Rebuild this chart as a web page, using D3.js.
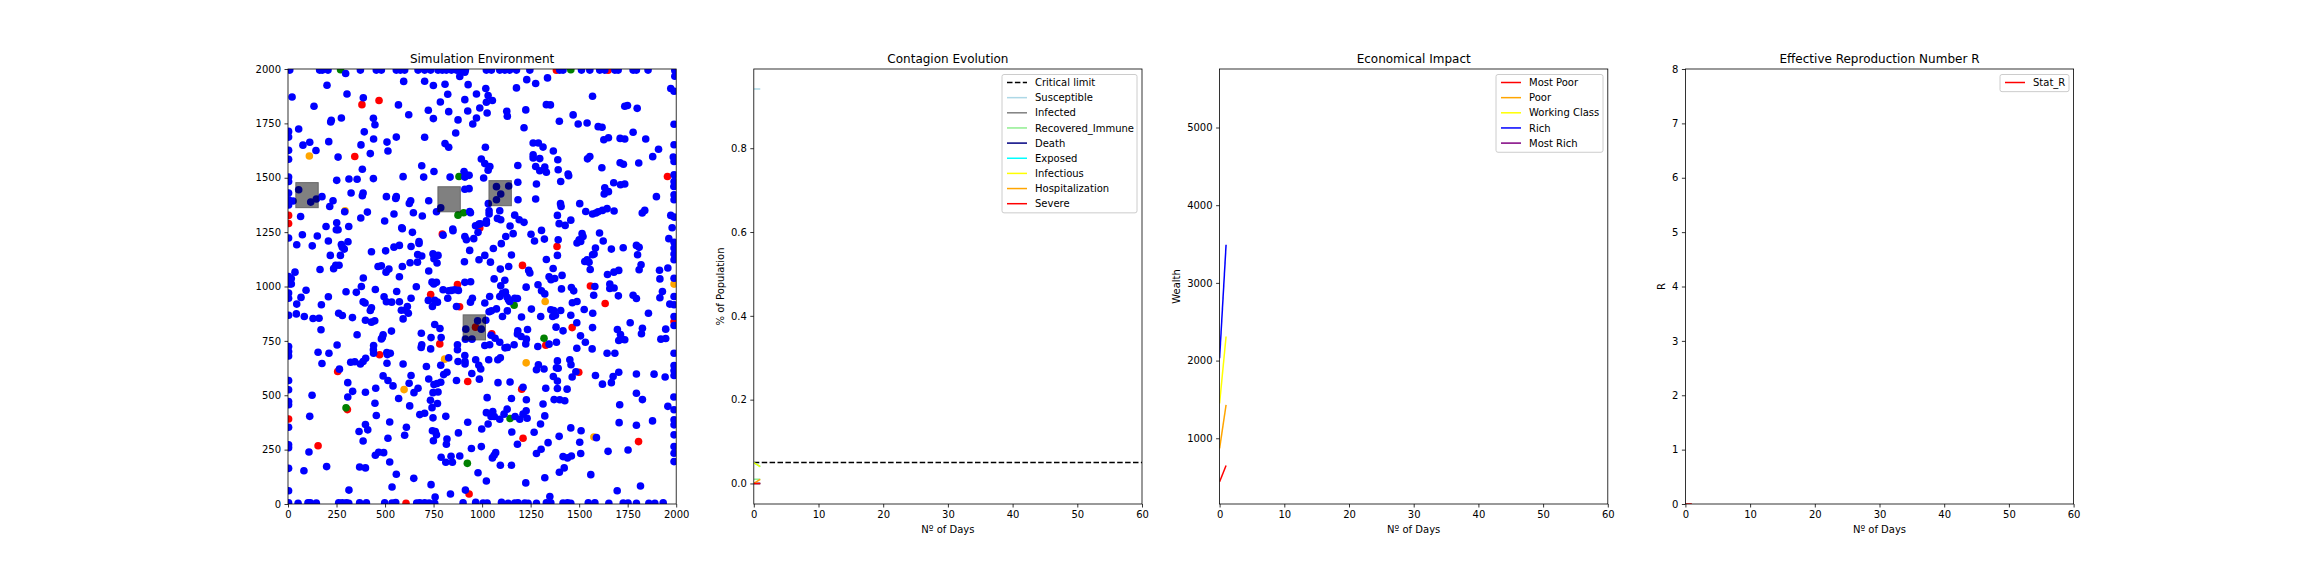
<!DOCTYPE html>
<html>
<head>
<meta charset="utf-8">
<script src="https://cdnjs.cloudflare.com/ajax/libs/d3/7.8.5/d3.min.js"></script>
<style>
    body { margin: 0; background: #fff; }
    text { font-family: "DejaVu Sans", sans-serif; fill: #000; }
</style>
</head>
<body>
<svg id="fig" width="2304" height="576"></svg>
<script>
// people in the simulation, by state, as [x, y]
const bluePeople = [
[9,1995],[163,1995],[177,1995],[206,1995],[373,1995],[455,1995],[481,1995],[558,1995],[579,1995],[601,1995],[670,1995],[704,1995],[735,1995],[773,1995],[795,1995],[816,1995],[842,1995],[868,1995],[893,1995],[914,1995],[1022,1995],[1048,1995],[1091,1995],[1117,1995],[1142,1995],[1177,1995],[1246,1995],[1400,1995],[1417,1995],[1512,1995],[1555,1995],[1606,1995],[1632,1995],[1684,1995],[1701,1995],[1778,1995],[1795,1995],[1855,1995],
[297,1979],[596,1943],[885,1966],[911,1985],[201,1925],[704,1944],[749,1924],[809,1930],[928,1928],[1019,1910],[1177,1913],[1230,1951],[1276,1933],[1337,1959],[21,1871],[304,1885],[388,1868],[823,1884],[971,1885],[1031,1878],[1569,1875],[911,1859],[785,1848],[1022,1847],[1053,1855],[1972,1910],[1989,1898],[1993,1967],[1993,1993],
[134,1829],[569,1835],[988,1821],[1331,1836],[1352,1835],[1735,1829],[1749,1832],[1799,1819],[723,1810],[926,1807],[828,1804],[1127,1806],[1225,1812],[1026,1798],[1130,1783],[622,1790],[971,1775],[749,1772],[876,1766],[440,1773],[223,1764],[220,1756],[275,1775],[1469,1789],[1398,1760],[952,1747],[1495,1747],[1541,1752],[1989,1746],[448,1744],
[55,1724],[1216,1730],[1598,1735],[1618,1732],[393,1711],[864,1706],[1778,1709],[3,1713],[3,1687],[558,1687],[704,1686],[1651,1684],[1627,1675],[1711,1681],[1735,1678],[1843,1678],[441,1678],[510,1664],[210,1666],[112,1663],[77,1650],[809,1657],[828,1640],[376,1651],[1263,1660],[1290,1660],[1314,1641],[1017,1640],[1989,1652],[1909,1631],[1367,1623],[144,1625],[515,1623],[3,1626],[1263,1605],[424,1611],[258,1595],[1555,1598],[1543,1587],[1879,1597],[1985,1595],
[996,1586],[1263,1591],[1297,1588],[1390,1583],[3,1585],[1711,1569],[1728,1562],[1807,1568],[1989,1575],[1014,1565],[1184,1556],[689,1555],[1040,1552],[1276,1552],[1323,1549],[383,1539],[1617,1546],[1031,1535],[1392,1537],[1297,1532],[1331,1525],[907,1529],[752,1529],[919,1512],[933,1511],[1443,1517],[1446,1509],[593,1505],[835,1503],[911,1503],[699,1503],[1008,1499],[314,1494],[356,1493],[440,1496],[251,1488],[3,1503],[3,1483],[1405,1483],[1184,1479],[1678,1477],[1713,1468],[1735,1471],[1989,1514],[1989,1483],[1280,1471],
[1988,1460],[1632,1454],[1651,1436],[1629,1425],[325,1430],[387,1430],[383,1417],[911,1447],[933,1450],[507,1413],[558,1413],[555,1405],[175,1413],[1185,1399],[1276,1402],[1898,1413],[1989,1422],[26,1393],[232,1394],[632,1394],[625,1382],[725,1394],[1404,1381],[1407,1368],[1503,1381],[1032,1381],[215,1368],[1989,1399],[3,1430],[3,1399],[3,1375],
[55,1445],[117,1388],[146,1402],[787,1362],[1074,1459],[1096,1425],[1074,1399],[1137,1462],
[1534,1345],[1036,1348],[1036,1333],[1091,1348],[1598,1344],[1620,1350],[1644,1358],[292,1344],[409,1342],[646,1339],[765,1344],[936,1345],[940,1339],[1569,1333],[1586,1338],[1680,1347],[1825,1338],[1838,1350],[65,1322],[692,1324],[1168,1328],[1388,1327],[1972,1327],[1989,1319],[375,1315],[546,1333],[251,1293],[1079,1313],[1096,1307],[1191,1307],[1216,1295],[498,1301],[1022,1302],[1022,1291],[1457,1305],[1397,1289],[1428,1281],[196,1276],[313,1276],[1144,1278],[966,1279],[984,1287],[991,1288],[1979,1270],[249,1261],[258,1261],
[586,1270],[589,1266],[849,1264],[850,1256],[979,1249],[1306,1258],[641,1249],[1605,1246],[1160,1243],[1252,1240],[1515,1243],[799,1236],[74,1238],[151,1232],[3,1223],[1122,1230],[911,1230],[919,1215],[957,1220],[1321,1218],[1392,1215],[309,1206],[1508,1207],[1520,1230],[1500,1215],[208,1209],[1270,1209],[1624,1209],[1489,1200],[675,1207],[675,1198],[45,1192],[125,1187],[1099,1197],[1962,1220],[1989,1203],[275,1193],[280,1181],[290,1172],
[546,1181],[574,1189],[634,1184],[1058,1175],[1989,1177],[1584,1177],[1577,1149],[1727,1178],[1666,1172],[430,1160],[503,1164],[936,1166],[218,1143],[270,1143],[668,1147],[689,1140],[1151,1145],[747,1150],[773,1143],[1014,1143],[984,1123],[1569,1146],[1388,1143],[1795,1189],[1809,1180],[1801,1146],[1989,1149],[752,1128],[1331,1124],[1541,1123],[1551,1111],[1529,1115],[909,1114],[1989,1123],[768,1108],[629,1109],[1043,1112],[667,1112],[1819,1100],[246,1098],[263,1098],[235,1082],[481,1095],[464,1092],[589,1092],[1137,1092],[1957,1085],[1809,1077],[1914,1075],[1366,1083],[1094,1080],
[165,1078],[520,1080],[505,1066],[1240,1074],[1246,1062],[1557,1078],[36,1066],[725,1071],[1646,1055],[1679,1066],[1704,1074],[1412,1051],[1345,1045],[1355,1031],[1374,1037],[388,1039],[574,1045],[1658,1011],[1916,1035],[1062,1035],[1989,1038],[1117,1029],[3,1046],[17,1037],[9,1012],[17,1012],[742,1020],[765,1019],[751,1012],[911,1019],[941,1022],[1288,1008],[1096,1003],[378,1000],[661,999],[1227,997],[1581,1000],[1680,993],[1658,991],
[93,983],[299,976],[450,986],[799,985],[828,980],[842,982],[859,985],[878,982],[1105,969],[1120,974],[1409,989],[1460,995],[1472,980],[1929,977],[1306,980],[1323,966],[352,973],[560,977],[1575,960],[1091,954],[1702,957],[1778,960],[1795,945],[1916,948],[67,950],[208,953],[495,953],[823,946],[1039,954],[634,946],[1129,951],[1136,939],[1168,946],[1182,945],[1489,931],[1465,925],[507,930],[534,928],[574,930],[950,946],[940,928],[1014,924],[723,936],[756,936],[770,928],[3,970],[3,946],[1989,954],
[45,919],[172,916],[1142,931],[1967,919],[1989,916],[744,908],[615,908],[606,891],[584,891],[868,908],[387,930],[397,924],[430,902],[424,890],[1254,896],[1354,893],[1036,884],[1074,897],[1048,888],[1130,888],[1369,890],[1405,890],[261,877],[280,867],[620,877],[1526,894],[1378,868],[1364,862],[1570,877],[1857,877],[3,868],[43,874],[84,862],[1457,868],[129,853],[160,854],[332,857],[1203,860],[1302,862],[1989,862],[1105,862],[593,851],[399,845],[430,836],[447,842],[1488,833],[756,825],[1763,833],[977,842],[1019,845],
[783,807],[1381,813],[1569,811],[170,801],[1826,808],[1697,802],[1946,804],[1821,783],[533,795],[687,785],[1184,796],[1234,802],[1417,796],[1989,821],[1182,782],[996,804],[916,804],[356,778],[490,778],[1713,779],[1046,776],[1507,773],[789,765],[486,765],[1201,770],[737,765],[1067,762],[1228,758],[948,758],[914,758],[1704,752],[1721,758],[1735,755],[1921,758],[1946,761],[481,759],[1091,744],[1532,744],
[1225,736],[1383,744],[689,732],[873,732],[1014,729],[1039,732],[253,731],[441,729],[1165,732],[1130,720],[1118,718],[1287,724],[1345,735],[735,713],[686,720],[873,709],[1488,716],[1567,713],[3,724],[440,709],[441,693],[155,698],[211,693],[509,696],[527,693],[512,687],[1644,693],[1684,693],[1989,693],[3,701],[3,681],
[911,683],[400,670],[387,655],[828,672],[1094,672],[1081,663],[1034,663],[967,663],[876,655],[912,655],[1388,658],[1452,663],[323,652],[344,654],[373,644],[510,647],[175,646],[593,644],[1458,640],[983,638],[912,644],[787,638],[1290,640],[1383,626],[1392,624],[1989,637],[265,620],[713,632],[1280,617],[1319,621],[993,621],[1989,614],[1483,608],
[819,606],[802,595],[947,600],[490,589],[634,591],[1584,591],[1704,606],[1675,586],[1795,598],[1886,597],[1367,586],[1464,584],[1943,584],[515,568],[725,575],[986,574],[868,568],[1989,591],[1388,565],[3,568],[308,558],[624,555],[787,560],[768,554],[752,549],[1082,558],[1144,561],[1620,551],[1666,558],[541,543],[1211,537],[1328,532],[1388,531],[1438,528],[670,532],[3,525],[649,512],[773,515],[452,532],[747,512],[333,518],[399,514],
[124,500],[308,492],[1795,509],[570,485],[1026,489],[1151,485],[1228,479],[1826,480],[1371,480],[1400,479],[1426,475],[734,477],[448,463],[770,462],[1988,492],[1314,460],[627,451],[3,471],[3,456],[1709,456],[742,443],[1129,436],[1227,429],[1957,449],[1022,420],[1055,425],[1989,433],
[679,411],[704,417],[1113,413],[1211,413],[112,403],[455,407],[813,403],[1170,402],[1323,405],[1232,394],[747,396],[1046,402],[1063,402],[1091,390],[1194,390],[524,377],[926,376],[1706,374],[1878,382],[1031,368],[1301,368],[399,365],[1795,362],[1989,387],[1989,364],[3,353],[1457,350],[411,341],[610,353],[1510,337],[998,345],[744,337],[1268,330],[366,333],
[759,333],[1153,331],[878,327],[601,316],[765,318],[387,290],[515,302],[819,299],[1397,311],[1589,305],[1989,318],[1340,282],[749,291],[1503,284],[816,275],[1182,275],[996,264],[945,255],[1752,248],[3,272],[3,259],[1989,264],[1649,242],[1304,252],[108,239],[467,238],[493,236],[1280,232],[1070,236],
[1508,232],[450,224],[1460,221],[1417,218],[1440,212],[1062,224],[1053,212],[789,215],[840,219],[885,221],[1989,233],[1989,195],[524,193],[813,192],[847,192],[199,172],[1094,178],[1151,178],[369,170],[399,166],[1423,166],[82,153],[1398,146],[1323,121],[979,144],[558,137],[1560,135],[3,164],
[648,118],[1022,106],[1225,97],[737,89],[536,78],[3,61],[1816,83],[1696,61],[314,64],[914,64],[837,46],[758,32],[1349,34],
[3,5],[52,3],[103,5],[115,6],[146,4],[261,5],[280,6],[301,5],[313,3],[369,5],[404,5],[498,5],[536,4],[555,7],[663,4],[679,5],[704,5],[727,4],[756,3],[902,5],[967,8],[1005,4],[1026,4],[1100,8],[1134,3],[1168,4],[1185,6],[1220,4],[1237,3],[1280,3],[1331,5],[1354,6],[1417,4],[1440,5],[1457,3],[1547,5],[1581,5],[1653,3],[1727,4],[1752,4],[1795,3],[1859,3],[1890,3],[1933,5]
];
const redPeople = [[381,1836],[469,1855],[344,1598],[1955,1506],[795,1241],[3,1290],[3,1327],[988,1269],[1386,1184],[1208,1097],[873,1009],[735,963],[1558,1002],[1634,922],[884,907],[1464,811],[1050,782],[966,813],[782,736],[1328,730],[472,686],[256,609],[1498,606],[926,563],[1204,528],[306,434],[3,391],[1211,302],[1806,287],[155,268],[933,46],[608,3],[1383,1994],[1649,1994],[1989,839]];
const orangePeople = [[110,1600],[294,1348],[1325,931],[807,666],[1227,649],[598,526],[1576,308],[1989,1011]];
const greenPeople = [[271,1997],[1457,1997],[881,1506],[876,1328],[905,1339],[1165,914],[1319,762],[299,442],[1144,393],[924,187]];
// centres of the grey squares
const houses = [[98,1420],[830,1401],[1093,1429],[960,812]];
const houseSize = 115;

const days = [0, 1];
const criticalLimit = 0.05;
const susceptible = [0.9415, 0.9415];
const infected = [0.0, 0.0];
const recoveredImmune = [0.01, 0.01];
const death = [0.0, 0.0];
const exposed = [0.05, 0.04];
const infectious = [0.05, 0.04];
const hospitalization = [0.0, 0.01];
const severe = [0.0, 0.0];

const mostPoor = [440, 650];
const poor = [870, 1430];
const workingClass = [1450, 2310];
const rich = [2030, 3490];
const mostRich = [];

const statR = [0, 0];

const xTicks = [0, 10, 20, 30, 40, 50, 60];
const scatterTicks = [0, 250, 500, 750, 1000, 1250, 1500, 1750, 2000];
const contagionTicks = [0, 0.2, 0.4, 0.6, 0.8];
const wealthTicks = [1000, 2000, 3000, 4000, 5000];
const rTicks = [0, 1, 2, 3, 4, 5, 6, 7, 8];

const svg = d3.select("#fig");
const top_ = 69, bottom = 504, panelWidth = 388.2;
const panelLeft = [288, 753.8, 1219.6, 1685.4];

function makePanel(i, name, xDomain, yDomain, xt, yt, yFormat, xLabel, yLabel, yLabelX) {
    const left = panelLeft[i];
    const x = d3.scaleLinear().domain(xDomain).range([left, left + panelWidth]);
    const y = d3.scaleLinear().domain(yDomain).range([bottom, top_]);
    const g = svg.append("g");
    svg.append("clipPath").attr("id", "clip" + i).append("rect")
        .attr("x", left).attr("y", top_).attr("width", panelWidth).attr("height", bottom - top_);
    const plot = g.append("g").attr("clip-path", `url(#clip${i})`);
    const axes = { x, y, plot, g, left };

    axes.drawFrame = function() {
        const xAxis = g.append("g").attr("transform", `translate(0,${bottom})`)
            .call(d3.axisBottom(x).tickValues(xt).tickFormat(d3.format("d")).tickSize(3.5).tickPadding(3.5));
        const yAxis = g.append("g").attr("transform", `translate(${left},0)`)
            .call(d3.axisLeft(y).tickValues(yt).tickFormat(yFormat).tickSize(3.5).tickPadding(3.5));
        [xAxis, yAxis].forEach(a => {
            a.select(".domain").remove();
            a.selectAll("text").style("font-size", "10px").style("font-family", '"DejaVu Sans"');
            a.selectAll("line").attr("stroke", "#000").attr("stroke-width", 0.8);
        });
        g.append("rect").attr("x", left).attr("y", top_).attr("width", panelWidth).attr("height", bottom - top_)
            .attr("fill", "none").attr("stroke", "#000").attr("stroke-width", 0.8);
        g.append("text").attr("x", left + panelWidth / 2).attr("y", 63).attr("text-anchor", "middle")
            .style("font-size", "12px").text(name);
        if (xLabel) {
            g.append("text").attr("x", left + panelWidth / 2).attr("y", 533).attr("text-anchor", "middle")
                .style("font-size", "10px").text(xLabel);
        }
        if (yLabel) {
            g.append("text").attr("transform", `translate(${yLabelX},${(top_ + bottom) / 2}) rotate(-90)`)
                .attr("text-anchor", "middle").style("font-size", "10px").text(yLabel);
        }
    };
    return axes;
}

function drawLines(axes, series) {
    const line = d3.line().x((d, i) => axes.x(days[i])).y(d => axes.y(d));
    series.forEach(s => {
        if (!s.values.length) return;
        axes.plot.append("path").attr("d", line(s.values)).attr("fill", "none")
            .attr("stroke", s.color).attr("stroke-width", 1.5);
    });
}

function drawLegend(axes, items, boxX, boxW) {
    const rowH = 15.15, boxY = 74.5;
    const leg = axes.g.append("g");
    leg.append("rect").attr("x", boxX).attr("y", boxY).attr("width", boxW).attr("height", items.length * rowH + 2)
        .attr("rx", 2).attr("fill", "#fff").attr("fill-opacity", 0.8).attr("stroke", "#ccc").attr("stroke-width", 1);
    items.forEach((it, i) => {
        const cy = boxY + 8 + i * rowH;
        leg.append("line").attr("x1", boxX + 5).attr("x2", boxX + 25).attr("y1", cy).attr("y2", cy)
            .attr("stroke", it.color).attr("stroke-width", 1.5)
            .attr("stroke-dasharray", it.dash ? "5.5,2.4" : null);
        leg.append("text").attr("x", boxX + 33).attr("y", cy + 3.6).style("font-size", "10px").text(it.label);
    });
}

// Simulation Environment
const sim = makePanel(0, "Simulation Environment", [0, 2000], [0, 2000], scatterTicks, scatterTicks, d3.format("d"));
[[redPeople, "red"], [orangePeople, "orange"], [greenPeople, "green"], [bluePeople, "blue"]].forEach(([people, color]) => {
    sim.plot.selectAll(null).data(people).join("circle")
        .attr("cx", d => sim.x(d[0])).attr("cy", d => sim.y(d[1])).attr("r", 3.8).attr("fill", color);
});
sim.plot.selectAll(null).data(houses).join("rect")
    .attr("x", d => sim.x(d[0] - houseSize / 2)).attr("y", d => sim.y(d[1] + houseSize / 2))
    .attr("width", d => sim.x(d[0] + houseSize / 2) - sim.x(d[0] - houseSize / 2))
    .attr("height", d => sim.y(d[1] - houseSize / 2) - sim.y(d[1] + houseSize / 2))
    .attr("fill", "#808080").attr("stroke", "#666").attr("stroke-width", 1)
    .style("mix-blend-mode", "multiply");
sim.drawFrame();

// Contagion Evolution
const contagionSeries = [
    { label: "Susceptible", color: "lightblue", values: susceptible },
    { label: "Infected", color: "gray", values: infected },
    { label: "Recovered_Immune", color: "lightgreen", values: recoveredImmune },
    { label: "Death", color: "navy", values: death },
    { label: "Exposed", color: "cyan", values: exposed },
    { label: "Infectious", color: "yellow", values: infectious },
    { label: "Hospitalization", color: "orange", values: hospitalization },
    { label: "Severe", color: "red", values: severe }
];
const contagion = makePanel(1, "Contagion Evolution", [0, 60], [-0.049, 0.989], xTicks, contagionTicks, d3.format(".1f"),
    "Nº of Days", "% of Population", 724);
contagion.plot.append("line").attr("x1", contagion.x(0)).attr("x2", contagion.x(60))
    .attr("y1", contagion.y(criticalLimit)).attr("y2", contagion.y(criticalLimit))
    .attr("stroke", "#000").attr("stroke-width", 1.5).attr("stroke-dasharray", "5.5,2.4");
drawLines(contagion, contagionSeries);
contagion.drawFrame();
drawLegend(contagion, [{ label: "Critical limit", color: "#000", dash: true }].concat(contagionSeries), 1002, 135);

// Economical Impact
const wealthSeries = [
    { label: "Most Poor", color: "red", values: mostPoor },
    { label: "Poor", color: "orange", values: poor },
    { label: "Working Class", color: "yellow", values: workingClass },
    { label: "Rich", color: "blue", values: rich },
    { label: "Most Rich", color: "purple", values: mostRich }
];
const wealth = makePanel(2, "Economical Impact", [0, 60], [154, 5753], xTicks, wealthTicks, d3.format("d"),
    "Nº of Days", "Wealth", 1180);
drawLines(wealth, wealthSeries);
wealth.drawFrame();
drawLegend(wealth, wealthSeries, 1496, 107);

// Effective Reproduction Number R
const rSeries = [{ label: "Stat_R", color: "red", values: statR }];
const repro = makePanel(3, "Effective Reproduction Number R", [0, 60], [0, 8], xTicks, rTicks, d3.format("d"),
    "Nº of Days", "R", 1665);
drawLines(repro, rSeries);
repro.drawFrame();
drawLegend(repro, rSeries, 2000, 69);
</script>
</body>
</html>
